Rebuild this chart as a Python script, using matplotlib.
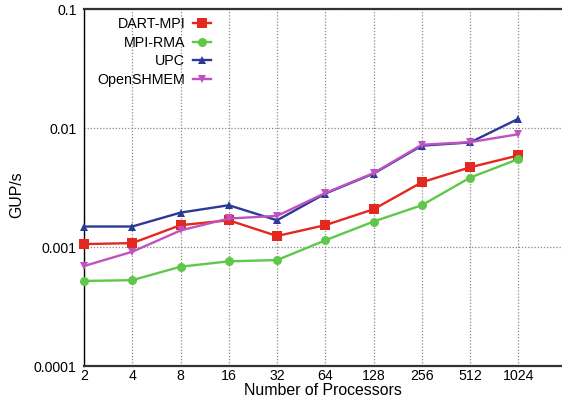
import matplotlib
matplotlib.use("Agg")
import matplotlib.pyplot as plt
import matplotlib.ticker as mticker

plt.rcParams["font.family"] = ["Liberation Sans", "DejaVu Sans"]

# Data
procs = ["2", "4", "8", "16", "32", "64", "128", "256", "512", "1024"]
dart_mpi = [0.00106, 0.00108, 0.00153, 0.00168, 0.00124, 0.00153, 0.00208, 0.00351, 0.00469, 0.0059]
mpi_rma = [0.000519, 0.000527, 0.000684, 0.000759, 0.000778, 0.00114, 0.00164, 0.00225, 0.00384, 0.0055]
upc = [0.00149, 0.00149, 0.00195, 0.00225, 0.00168, 0.00282, 0.00415, 0.00713, 0.00759, 0.0120]
openshmem = [0.000693, 0.000914, 0.00138, 0.00174, 0.00183, 0.00285, 0.00419, 0.00726, 0.00763, 0.0089]

W, H = 562, 403
fig = plt.figure(figsize=(W / 100, H / 100), dpi=100)
ax = fig.add_axes([84 / W, 37 / H, (W - 84) / W, (366 - 9.3) / H])

xs = list(range(len(procs)))
series = [
    ("DART-MPI", dart_mpi, "#e2281f", "s", 6.5),
    ("MPI-RMA", mpi_rma, "#5fc84a", "o", 6.5),
    ("UPC", upc, "#2b3a98", "^", 6),
    ("OpenSHMEM", openshmem, "#c052c0", "v", 6),
]
for label, vals, color, marker, ms in series:
    ax.plot(xs, vals, color=color, lw=1.7, marker=marker, ms=ms, label=label,
            markeredgewidth=0, clip_on=False, zorder=3)

ax.set_yscale("log")
ax.set_ylim(0.0001, 0.1)
ax.set_xlim(0, (W - 84) / 48.26)
ax.set_xticks(xs)
ax.set_xticklabels(procs)
ax.yaxis.set_major_locator(mticker.FixedLocator([0.0001, 0.001, 0.01, 0.1]))
ax.yaxis.set_major_formatter(mticker.FixedFormatter(["0.0001", "0.001", "0.01", "0.1"]))
ax.yaxis.set_minor_locator(mticker.NullLocator())
ax.tick_params(axis="both", length=0, labelsize=10.2)
ax.tick_params(axis="y", pad=5.3)
ax.tick_params(axis="x", pad=2.5)

ax.grid(True, which="major", color="#888888", linestyle=(0, (1, 1.5)), lw=0.9)

ax.spines["right"].set_visible(False)
ax.spines["left"].set_linewidth(1.0)
ax.spines["left"].set_color("black")
for s in ("top", "bottom"):
    ax.spines[s].set_linewidth(1.6)
    ax.spines[s].set_color("#333333")

fig.text(323 / W, 1 - 395 / H, "Number of Processors", fontsize=11.4,
         ha="center", va="baseline")
fig.text(16.5 / W, 1 - 195 / H, "GUP/s", fontsize=11.4, rotation=90,
         ha="center", va="center")

ax.legend(loc="upper right", bbox_to_anchor=(211 / W, 1 - 17 / H),
          bbox_transform=fig.transFigure, frameon=False, markerfirst=False,
          fontsize=10.3, handlelength=1.26, handletextpad=0.54, labelspacing=0.33,
          borderpad=0, borderaxespad=0)

fig.savefig("out.png", dpi=100)
